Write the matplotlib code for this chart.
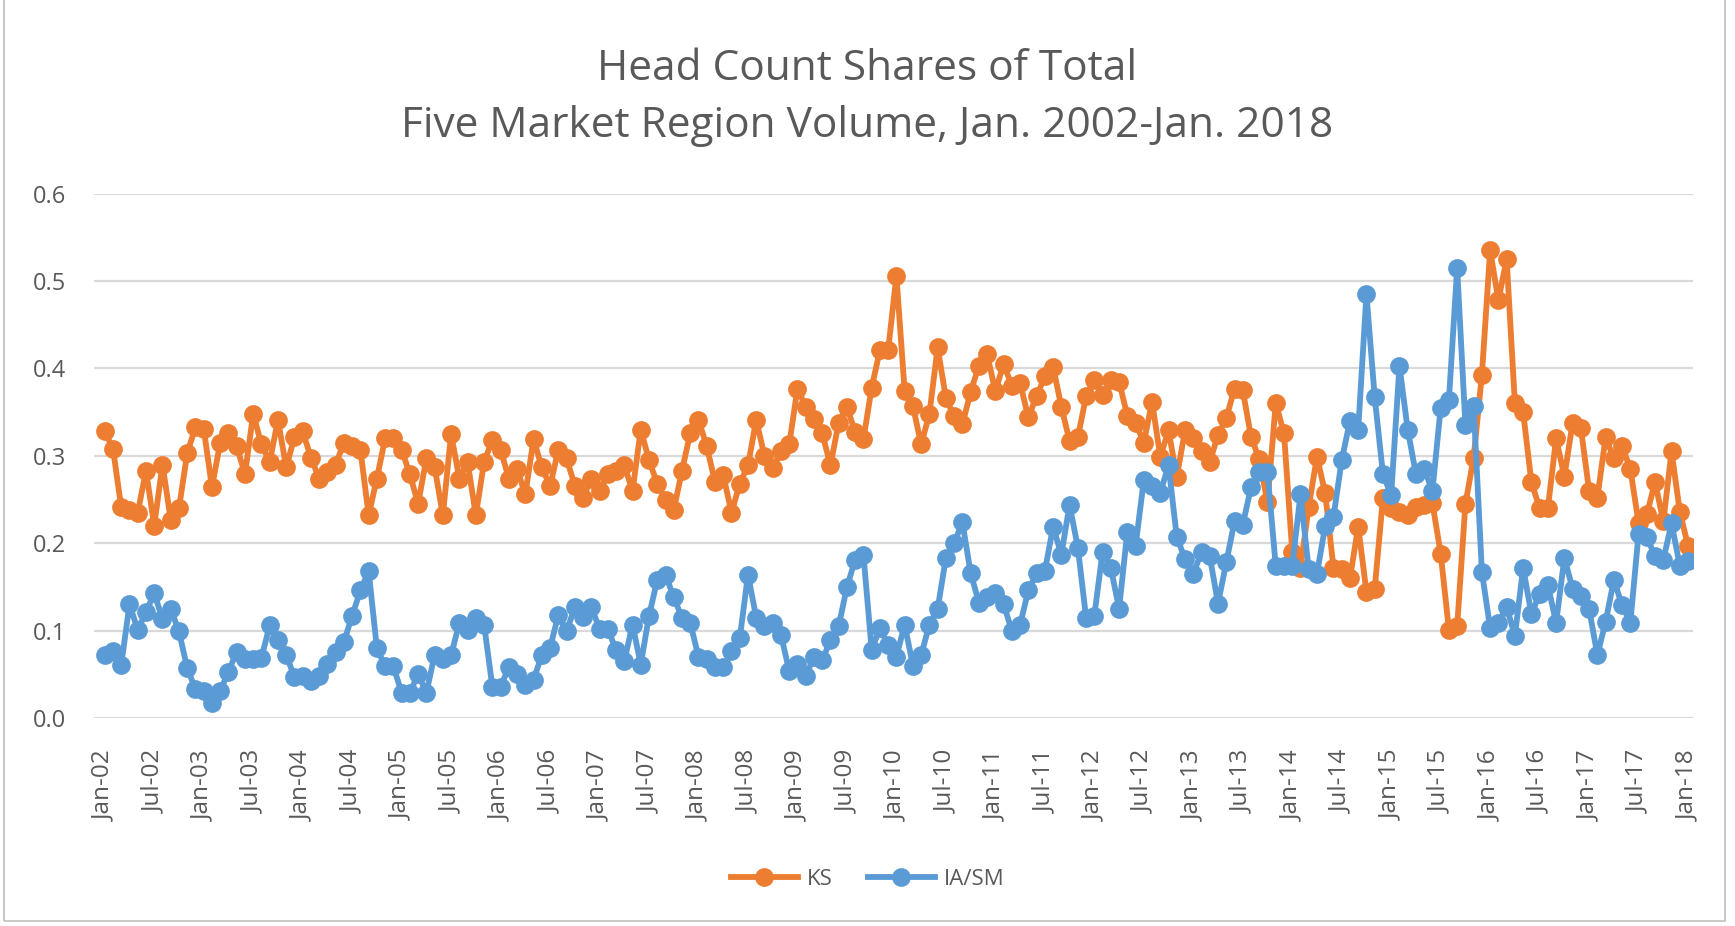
import matplotlib
matplotlib.use("Agg")
import matplotlib.pyplot as plt
from matplotlib.patches import Rectangle

# ─── Data: monthly head count shares, Jan-2002 .. Jan-2018 ───────────────────
years = list(range(2002, 2019))
tick_months = ["Jan", "Jul"]

ks = [
    # 2002
    0.328, 0.308, 0.241, 0.238, 0.235, 0.283, 0.220, 0.290, 0.227, 0.240, 0.303, 0.333,
    # 2003
    0.331, 0.264, 0.315, 0.326, 0.311, 0.279, 0.348, 0.313, 0.293, 0.341, 0.287, 0.321,
    # 2004
    0.328, 0.298, 0.274, 0.282, 0.290, 0.315, 0.311, 0.307, 0.232, 0.274, 0.320, 0.320,
    # 2005
    0.307, 0.279, 0.245, 0.297, 0.287, 0.232, 0.325, 0.274, 0.293, 0.232, 0.293, 0.318,
    # 2006
    0.307, 0.274, 0.285, 0.256, 0.319, 0.287, 0.265, 0.307, 0.297, 0.266, 0.252, 0.274,
    # 2007
    0.260, 0.279, 0.283, 0.289, 0.260, 0.330, 0.295, 0.268, 0.250, 0.238, 0.283, 0.326,
    # 2008
    0.341, 0.311, 0.270, 0.278, 0.235, 0.268, 0.289, 0.341, 0.300, 0.286, 0.305, 0.313,
    # 2009
    0.377, 0.356, 0.342, 0.326, 0.289, 0.338, 0.356, 0.327, 0.319, 0.378, 0.421, 0.421,
    # 2010
    0.506, 0.374, 0.357, 0.313, 0.348, 0.424, 0.366, 0.345, 0.336, 0.373, 0.403, 0.416,
    # 2011
    0.374, 0.405, 0.380, 0.383, 0.344, 0.368, 0.391, 0.402, 0.356, 0.317, 0.321, 0.368,
    # 2012
    0.387, 0.370, 0.387, 0.385, 0.346, 0.338, 0.315, 0.362, 0.299, 0.329, 0.276, 0.329,
    # 2013
    0.320, 0.305, 0.293, 0.324, 0.343, 0.377, 0.375, 0.322, 0.296, 0.247, 0.360, 0.326,
    # 2014
    0.190, 0.172, 0.242, 0.299, 0.257, 0.172, 0.170, 0.160, 0.219, 0.144, 0.148, 0.252,
    # 2015
    0.240, 0.236, 0.232, 0.242, 0.244, 0.246, 0.188, 0.101, 0.105, 0.245, 0.298, 0.393,
    # 2016
    0.535, 0.478, 0.525, 0.360, 0.350, 0.270, 0.240, 0.240, 0.320, 0.276, 0.338, 0.332,
    # 2017
    0.260, 0.252, 0.321, 0.297, 0.311, 0.285, 0.223, 0.233, 0.270, 0.225, 0.305, 0.236,
    # 2018
    0.197,
]

ia_sm = [
    # 2002
    0.072, 0.077, 0.061, 0.130, 0.101, 0.121, 0.143, 0.113, 0.125, 0.099, 0.057, 0.033,
    # 2003
    0.031, 0.017, 0.031, 0.053, 0.076, 0.068, 0.068, 0.069, 0.106, 0.089, 0.072, 0.047,
    # 2004
    0.048, 0.042, 0.048, 0.062, 0.076, 0.087, 0.117, 0.146, 0.168, 0.080, 0.059, 0.059,
    # 2005
    0.029, 0.029, 0.050, 0.029, 0.072, 0.068, 0.072, 0.109, 0.101, 0.115, 0.107, 0.036,
    # 2006
    0.036, 0.058, 0.050, 0.038, 0.044, 0.072, 0.080, 0.118, 0.099, 0.127, 0.116, 0.127,
    # 2007
    0.102, 0.102, 0.078, 0.065, 0.107, 0.061, 0.117, 0.158, 0.164, 0.138, 0.115, 0.109,
    # 2008
    0.070, 0.068, 0.058, 0.058, 0.077, 0.091, 0.164, 0.115, 0.105, 0.109, 0.095, 0.054,
    # 2009
    0.062, 0.048, 0.070, 0.066, 0.089, 0.105, 0.150, 0.181, 0.187, 0.078, 0.103, 0.083,
    # 2010
    0.070, 0.107, 0.060, 0.072, 0.107, 0.125, 0.183, 0.200, 0.224, 0.166, 0.132, 0.138,
    # 2011
    0.143, 0.130, 0.100, 0.107, 0.146, 0.166, 0.168, 0.219, 0.187, 0.244, 0.195, 0.115,
    # 2012
    0.117, 0.190, 0.172, 0.125, 0.213, 0.197, 0.272, 0.266, 0.258, 0.289, 0.207, 0.182,
    # 2013
    0.165, 0.190, 0.185, 0.131, 0.178, 0.225, 0.221, 0.264, 0.281, 0.281, 0.174, 0.174,
    # 2014
    0.174, 0.256, 0.170, 0.165, 0.220, 0.230, 0.295, 0.340, 0.330, 0.485, 0.367, 0.279,
    # 2015
    0.255, 0.403, 0.330, 0.279, 0.285, 0.260, 0.355, 0.364, 0.515, 0.335, 0.357, 0.167,
    # 2016
    0.103, 0.109, 0.127, 0.094, 0.172, 0.119, 0.142, 0.152, 0.109, 0.183, 0.148, 0.140,
    # 2017
    0.125, 0.072, 0.110, 0.158, 0.129, 0.109, 0.211, 0.207, 0.185, 0.181, 0.223, 0.174,
    # 2018
    0.180,
]

y_ticks = [0.0, 0.1, 0.2, 0.3, 0.4, 0.5, 0.6]

# ─── Style ──────────────────────────────────────────────────────────────────
FONT = ["Open Sans", "DejaVu Sans"]
TEXT_GRAY = "#595959"
GRID_GRAY = "#d9d9d9"
ORANGE = "#ED7D31"
BLUE = "#5B9BD5"

plt.rcParams["font.family"] = FONT

months = list(range(len(ks)))
tick_pos = list(range(0, len(ks), 6))
tick_labels = [f"{m}-{y % 100:02d}" for y in years for m in tick_months][:len(tick_pos)]

fig = plt.figure(figsize=(17.35, 9.26), dpi=100)
ax = fig.add_axes([0.0542, 0.2246, 0.9216, 0.5663])

line_kw = dict(linewidth=4.2, marker="o", markersize=13.5, markeredgewidth=0)
ax.plot(months, ks, color=ORANGE, label="KS", **line_kw)
ax.plot(months, ia_sm, color=BLUE, label="IA/SM", **line_kw)

ax.set_xlim(-1.3, 192.6)
ax.set_ylim(0, 0.6)
ax.set_yticks(y_ticks)
ax.set_yticklabels([f"{v:.1f}" for v in y_ticks])
ax.set_xticks(tick_pos)
ax.set_xticklabels(tick_labels, rotation=90)

ax.grid(True, axis="y", color=GRID_GRAY, linewidth=1.6)
ax.set_axisbelow(True)
for side in ["top", "right", "left", "bottom"]:
    ax.spines[side].set_visible(False)
ax.tick_params(axis="y", length=0, pad=20, labelsize=17, labelcolor=TEXT_GRAY)
ax.tick_params(axis="x", length=0, pad=23, labelsize=17.5, labelcolor=TEXT_GRAY)

# Title (two lines, as in the Excel chart)
fig.text(0.5, 0.926, "Head Count Shares of Total", ha="center", va="center",
         fontsize=30.5, color=TEXT_GRAY)
fig.text(0.5, 0.864, "Five Market Region Volume, Jan. 2002-Jan. 2018", ha="center",
         va="center", fontsize=30.5, color=TEXT_GRAY)

leg = fig.legend(loc="center", bbox_to_anchor=(0.5, 0.05), ncol=2, frameon=False,
                 fontsize=16, handlelength=3.0, columnspacing=1.6, handletextpad=0.4)
for t in leg.get_texts():
    t.set_color(TEXT_GRAY)

# Chart outer border
fig.patches.append(Rectangle((0.0025, 0.005), 0.9915, 1.2, transform=fig.transFigure,
                             fill=False, edgecolor="#bfbfbf", linewidth=1.2))

fig.savefig("out.png", dpi=100, facecolor="white")
plt.close(fig)
